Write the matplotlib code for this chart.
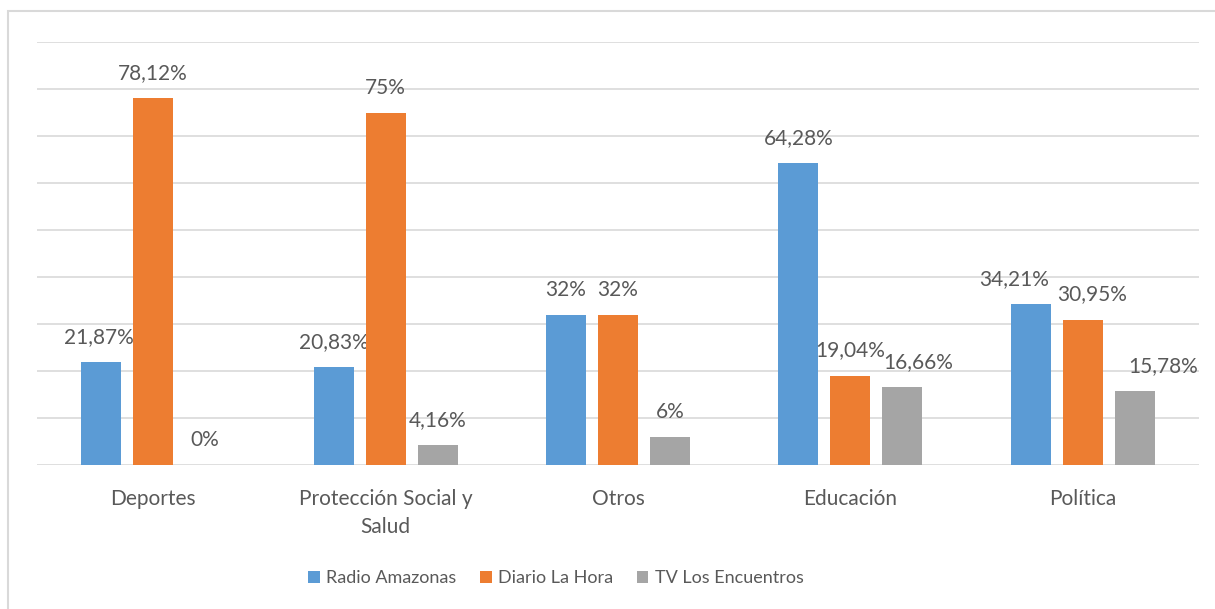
import matplotlib.pyplot as plt
from matplotlib.patches import Rectangle
import numpy as np

# -- data --
categorias = ["Deportes", "Protección Social y\nSalud", "Otros", "Educación", "Política"]
series = ["Radio Amazonas", "Diario La Hora", "TV Los Encuentros"]
radio = [21.87, 20.83, 32, 64.28, 34.21]
diario = [78.12, 75, 32, 19.04, 30.95]
tv = [0, 4.16, 6, 16.66, 15.78]
etiq_radio = ["21,87%", "20,83%", "32%", "64,28%", "34,21%"]
etiq_diario = ["78,12%", "75%", "32%", "19,04%", "30,95%"]
etiq_tv = ["0%", "4,16%", "6%", "16,66%", "15,78%"]

colores = ["#5B9BD5", "#ED7D31", "#A5A5A5"]
texto = "#595959"
# horizontal nudge of some labels (pixels), as in the original
desplaz = [[-2, 0, 0, 0, -17], [0, 0, 0, 0, 9], [0, 0, 0, 16, 28]]

plt.rcParams['font.family'] = ['Lato', 'DejaVu Sans']

fig = plt.figure(figsize=(12.15, 6.09), dpi=100)
ax = fig.add_axes([37/1215, 1 - 465/609, (1199 - 37)/1215, (465 - 42)/609])

x = np.arange(len(categorias))
w = 40 / 232.4
paso = 52 / 232.4

for i, (vals, etq) in enumerate(zip([radio, diario, tv], [etiq_radio, etiq_diario, etiq_tv])):
    pos = x + (i - 1) * paso
    ax.bar(pos, vals, width=w, color=colores[i], label=series[i], zorder=3)
    for px, v, t, d in zip(pos, vals, etq, desplaz[i]):
        ax.annotate(t, (px, v), xytext=(d * 0.72, 18), textcoords="offset points",
                    ha="center", va="center", fontsize=15, color=texto)

ax.set_xlim(-0.5, len(categorias) - 0.5)
ax.set_ylim(0, 90)
ax.set_yticks(np.arange(0, 91, 10))
ax.yaxis.grid(True, color="#d9d9d9", lw=1.2)
ax.set_axisbelow(True)
ax.tick_params(axis="y", left=False, labelleft=False)
ax.tick_params(axis="x", bottom=False, pad=14)
ax.set_xticks(x)
ax.set_xticklabels(categorias, fontsize=15, color=texto, linespacing=1.45, va="top")
for s in ax.spines.values():
    s.set_visible(False)

fig.legend(loc="center", bbox_to_anchor=(556/1215, 1 - 578/609), ncol=3, frameon=False,
           handlelength=0.65, handleheight=0.65, handletextpad=0.35, columnspacing=1.3,
           fontsize=13, labelcolor=texto)

fig.patches.append(Rectangle((8/1215, -0.1), 1.2, 1.1 - 11/609, transform=fig.transFigure,
                             fill=False, edgecolor="#d9d9d9", lw=1.5))

fig.savefig("out.png", dpi=100)
